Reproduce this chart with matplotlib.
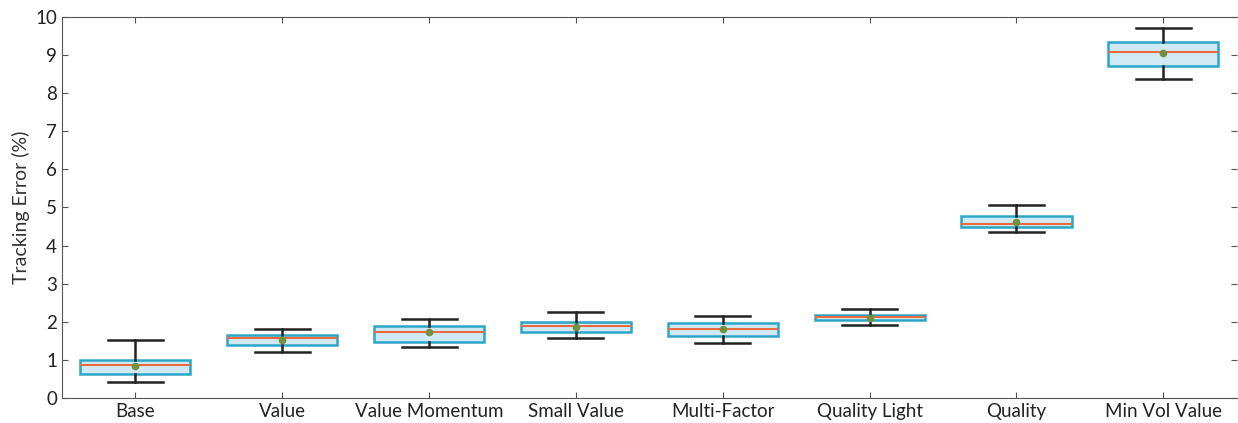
import matplotlib
matplotlib.use("Agg")
from matplotlib import pyplot as plt

labels = ["Base", "Value", "Value Momentum", "Small Value", "Multi-Factor",
          "Quality Light", "Quality", "Min Vol Value"]
whislo = [0.43, 1.21, 1.33, 1.57, 1.44, 1.92, 4.35, 8.36]
q1 = [0.64, 1.38, 1.47, 1.73, 1.63, 2.06, 4.48, 8.72]
med = [0.87, 1.58, 1.73, 1.89, 1.80, 2.12, 4.57, 9.08]
q3 = [1.01, 1.65, 1.90, 1.99, 1.96, 2.17, 4.77, 9.33]
whishi = [1.52, 1.82, 2.08, 2.25, 2.14, 2.33, 5.07, 9.71]
mean = [0.83, 1.53, 1.72, 1.87, 1.80, 2.11, 4.62, 9.05]

plt.rcParams['font.family'] = ['Lato', 'DejaVu Sans']

stats = []
for i in range(len(labels)):
    stats.append(dict(label=labels[i], whislo=whislo[i], q1=q1[i], med=med[i],
                      q3=q3[i], whishi=whishi[i], mean=mean[i], fliers=[]))

fig = plt.figure(figsize=(12.38, 4.23), dpi=100)
ax = fig.add_axes([0.050, 0.059, 0.949, 0.901])

ax.bxp(stats, widths=0.75, patch_artist=True, showmeans=True,
       boxprops=dict(facecolor='#d0eaf5', edgecolor='#2ba6c6', linewidth=1.8),
       medianprops=dict(color='#ec6a3f', linewidth=1.5),
       meanprops=dict(marker='o', markerfacecolor='#71913f', markeredgecolor='#71913f', markersize=4.5),
       whiskerprops=dict(color='#222222', linewidth=1.8),
       capprops=dict(color='#222222', linewidth=1.8),
       capwidths=0.375)

ax.set_xlim(0.5, 8.5)
ax.set_ylim(0, 10)
ax.set_yticks(range(0, 11))
ax.set_ylabel("Tracking Error (%)", fontsize=14, color='#333333')
ax.tick_params(direction='in', top=True, right=True, labelsize=13.5, colors='#555555',
               labelcolor='#222222', length=4)
for s in ax.spines.values():
    s.set_color('#555555')
ax.spines['right'].set_visible(False)

fig.savefig("out.png", dpi=100)
